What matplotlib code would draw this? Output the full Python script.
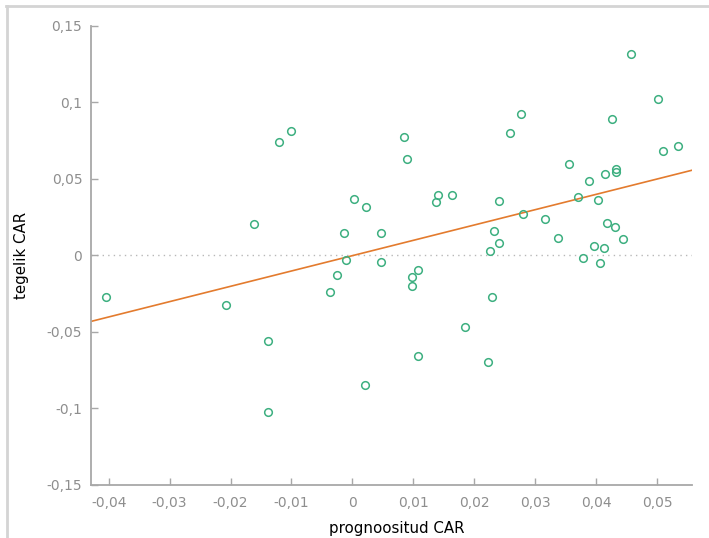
"""
Scatter of actual vs predicted CAR with fitted OLS line
(gretl-style look, comma decimal separators).
"""

import numpy as np
import matplotlib
matplotlib.use("Agg")
import matplotlib.pyplot as plt
from matplotlib.lines import Line2D


# Data

predicted = [
    -0.0405, -0.0207, -0.0161, -0.0138, -0.0139, -0.0121, -0.0101, -0.0036,
    -0.0026, -0.0014, -0.0010, 0.0003, 0.0021, 0.0023, 0.0047, 0.0047,
    0.0085, 0.0090, 0.0098, 0.0098, 0.0107, 0.0108, 0.0140, 0.0137,
    0.0164, 0.0185, 0.0223, 0.0226, 0.0229, 0.0233, 0.0240, 0.0240,
    0.0259, 0.0277, 0.0280, 0.0316, 0.0337, 0.0356, 0.0371, 0.0378,
    0.0389, 0.0396, 0.0403, 0.0406, 0.0413, 0.0415, 0.0418, 0.0426,
    0.0431, 0.0433, 0.0433, 0.0444, 0.0457, 0.0501, 0.0510, 0.0534,
]
actual = [
    -0.0275, -0.0325, 0.0205, -0.0558, -0.1024, 0.0741, 0.0815, -0.0237,
    -0.0129, 0.0148, -0.0033, 0.0370, -0.0848, 0.0314, 0.0148, -0.0041,
    0.0771, 0.0632, -0.0144, -0.0200, -0.0097, -0.0660, 0.0394, 0.0351,
    0.0394, -0.0471, -0.0695, 0.0031, -0.0275, 0.0161, 0.0083, 0.0357,
    0.0800, 0.0922, 0.0270, 0.0235, 0.0111, 0.0597, 0.0379, -0.0020,
    0.0486, 0.0059, 0.0364, -0.0050, 0.0046, 0.0532, 0.0211, 0.0893,
    0.0183, 0.0567, 0.0545, 0.0105, 0.1316, 0.1024, 0.0682, 0.0712,
]

x_ticks = [-0.04, -0.03, -0.02, -0.01, 0, 0.01, 0.02, 0.03, 0.04, 0.05]
x_ticklabels = ["-0,04", "-0,03", "-0,02", "-0,01", "0",
                "0,01", "0,02", "0,03", "0,04", "0,05"]
y_ticks = [-0.15, -0.1, -0.05, 0, 0.05, 0.1, 0.15]
y_ticklabels = ["-0,15", "-0,1", "-0,05", "0", "0,05", "0,1", "0,15"]

x_label = "prognoositud CAR"
y_label = "tegelik CAR"


# Colours
GREEN = "#3daf80"
ORANGE = "#e37b2e"
AXIS_GRAY = "#a8a8a8"
TICK_TEXT = "#8e8e8e"

plt.rcParams["font.family"] = ["DejaVu Sans"]
plt.rcParams["axes.unicode_minus"] = False

fig = plt.figure(figsize=(7.09, 5.38), dpi=100)
ax = fig.add_axes([0.1288, 0.0991, 0.8468, 0.8526])

xlim = (-0.04285, 0.0557)
ax.set_xlim(*xlim)
ax.set_ylim(-0.15, 0.15)

# zero reference line
ax.axhline(0, color="#b8b8b8", lw=1.0, ls=(0, (1, 3)), zorder=1)

# OLS fit through the points
slope, intercept = np.polyfit(predicted, actual, 1)
xs = np.array(xlim)
ax.plot(xs, intercept + slope * xs, color=ORANGE, lw=1.2, zorder=2)

ax.plot(predicted, actual, ls="none", marker="o", ms=5.5,
        mfc="none", mec=GREEN, mew=1.1, zorder=3)

# axes styling
for side in ("top", "right"):
    ax.spines[side].set_visible(False)
for side in ("left", "bottom"):
    ax.spines[side].set_color(AXIS_GRAY)
    ax.spines[side].set_linewidth(1.3)

ax.set_xticks(x_ticks)
ax.set_xticklabels(x_ticklabels)
ax.set_yticks(y_ticks)
ax.set_yticklabels(y_ticklabels)
ax.tick_params(axis="both", direction="in", length=5, width=1,
               color=AXIS_GRAY, labelcolor=TICK_TEXT, labelsize=10)
ax.tick_params(axis="y", pad=6.5)
ax.tick_params(axis="x", pad=8)

ax.set_xlabel(x_label, fontsize=10.8, color="black")
ax.set_ylabel(y_label, fontsize=10.8, color="black")
ax.xaxis.set_label_coords(0.508, -0.079)
ax.yaxis.set_label_coords(-0.103, 0.5)

# thin frame on top and left of the image
fig.add_artist(Line2D([6 / 709, 1], [1 - 6 / 538, 1 - 6 / 538],
                      transform=fig.transFigure, color="#d4d4d4", lw=2))
fig.add_artist(Line2D([7 / 709, 7 / 709], [0, 1 - 6 / 538],
                      transform=fig.transFigure, color="#d4d4d4", lw=2))

fig.savefig("out.png", dpi=100)
print(f"slope={slope:.4f} intercept={intercept:.5f}")
